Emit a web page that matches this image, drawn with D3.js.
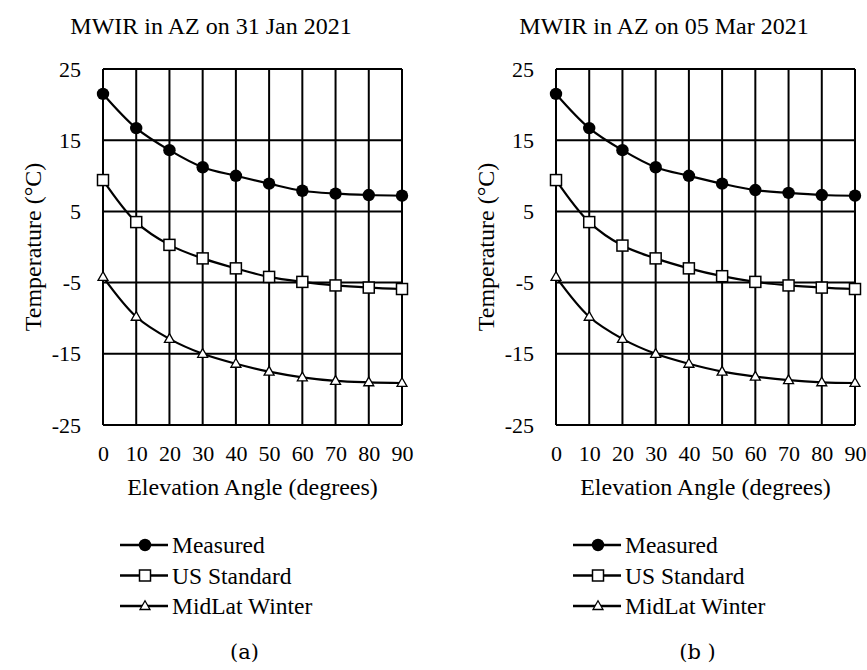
<!DOCTYPE html>
<html>
<head>
<meta charset="utf-8">
<script src="https://cdn.jsdelivr.net/npm/d3@7"></script>
<style>
  body { margin: 0; background: #fff; }
</style>
</head>
<body>
<div id="canvas"></div>
<script>
"use strict";

/* data */
const angles = [0, 10, 20, 30, 40, 50, 60, 70, 80, 90];
const yTicks = [-25, -15, -5, 5, 15, 25];

// panel (a) 31 Jan 2021
const measuredA = [21.5, 16.7, 13.6, 11.2, 10.0, 8.9, 7.9, 7.5, 7.3, 7.2];
const usStdA = [9.4, 3.5, 0.3, -1.6, -3.0, -4.2, -4.9, -5.4, -5.7, -5.9];
const midLatA = [-4.2, -9.8, -12.9, -15.0, -16.4, -17.5, -18.3, -18.8, -19.0, -19.1];

// panel (b) 05 Mar 2021
const measuredB = [21.5, 16.7, 13.6, 11.2, 10.0, 8.9, 8.0, 7.6, 7.3, 7.2];
const usStdB = [9.4, 3.5, 0.2, -1.6, -3.0, -4.1, -4.9, -5.4, -5.7, -5.9];
const midLatB = [-4.2, -9.8, -12.9, -15.0, -16.4, -17.5, -18.2, -18.7, -19.0, -19.1];

const seriesNames = ["Measured", "US Standard", "MidLat Winter"];
const markerTypes = ["circle", "square", "triangle"];

/* drawing config */
const svgWidth = 867;
const svgHeight = 670;
const plotTop = 69;
const plotBottom = 425;
const plotW = 299;
const serif = "'Liberation Serif', 'Times New Roman', Times, serif";

const svg = d3.select("#canvas")
  .append("svg")
  .attr("width", svgWidth)
  .attr("height", svgHeight);

function drawMarker(g, type, x, y) {
  if (type === "circle") {
    g.append("circle").attr("cx", x).attr("cy", y).attr("r", 6.2)
      .attr("fill", "#000");
  } else if (type === "square") {
    g.append("rect").attr("x", x - 5.5).attr("y", y - 5.5)
      .attr("width", 11).attr("height", 11)
      .attr("fill", "#fff").attr("stroke", "#000").attr("stroke-width", 1.5);
  } else {
    const s = 10;
    const h = s * 0.87;
    g.append("path")
      .attr("d", `M${x},${y - h * 0.6}L${x + s / 2},${y + h * 0.4}L${x - s / 2},${y + h * 0.4}Z`)
      .attr("fill", "#fff").attr("stroke", "#000").attr("stroke-width", 1.3);
  }
}

function addText(g, x, y, str, size, anchor) {
  return g.append("text")
    .attr("x", x).attr("y", y)
    .attr("text-anchor", anchor || "start")
    .style("font-family", serif)
    .style("font-size", size + "px")
    .attr("fill", "#000")
    .text(str);
}

function drawPanel(left, title, series, caption) {
  const g = svg.append("g");

  const x = d3.scaleLinear().domain([0, 90]).range([left, left + plotW]);
  const y = d3.scaleLinear().domain([-25, 25]).range([plotBottom, plotTop]);

  // grid lines
  g.append("g")
    .selectAll("line")
    .data(angles)
    .enter().append("line")
    .attr("x1", d => x(d)).attr("x2", d => x(d))
    .attr("y1", plotTop).attr("y2", plotBottom)
    .attr("stroke", "#000").attr("stroke-width", 2);

  g.append("g")
    .selectAll("line")
    .data(yTicks)
    .enter().append("line")
    .attr("x1", left).attr("x2", left + plotW)
    .attr("y1", d => y(d)).attr("y2", d => y(d))
    .attr("stroke", "#000").attr("stroke-width", 2);

  // axes (labels only)
  const yAxis = g.append("g")
    .attr("transform", `translate(${left - 15},0)`)
    .call(d3.axisLeft(y).tickValues(yTicks).tickSize(0).tickPadding(7)
      .tickFormat(d => String(d)));
  yAxis.select(".domain").remove();
  yAxis.selectAll("text")
    .style("font-family", serif).style("font-size", "22px");

  const xAxis = g.append("g")
    .attr("transform", `translate(0,${plotBottom + 20})`)
    .call(d3.axisBottom(x).tickValues(angles).tickSize(0).tickPadding(0)
      .tickFormat(d => String(d)));
  xAxis.select(".domain").remove();
  xAxis.selectAll("text")
    .style("font-family", serif).style("font-size", "22px");

  // lines + markers
  const line = d3.line()
    .x((d, i) => x(angles[i]))
    .y(d => y(d))
    .curve(d3.curveCatmullRom.alpha(0.5));

  series.forEach((vals, si) => {
    g.append("path")
      .datum(vals)
      .attr("d", line)
      .attr("fill", "none")
      .attr("stroke", "#000")
      .attr("stroke-width", 2.2);
    vals.forEach((v, i) => drawMarker(g, markerTypes[si], x(angles[i]), y(v)));
  });

  // titles
  addText(g, left + 108, 34, title, 24, "middle");
  addText(g, left + plotW / 2, 495, "Elevation Angle (degrees)", 24, "middle");
  addText(g, 0, 0, "Temperature (°C)", 24, "middle")
    .attr("transform", `translate(${left - 62},${(plotTop + plotBottom) / 2}) rotate(-90)`);

  // legend
  const lg = g.append("g").attr("transform", `translate(${left + 17},545)`);
  seriesNames.forEach((name, i) => {
    const ly = i * 30.5;
    lg.append("line")
      .attr("x1", 0).attr("x2", 48).attr("y1", ly).attr("y2", ly)
      .attr("stroke", "#000").attr("stroke-width", 2.5);
    drawMarker(lg, markerTypes[i], 25, ly);
    addText(lg, 52, ly + 8, name, 23.5);
  });

  addText(g, left + plotW / 2 - 8, 659, caption, 21, "middle")
    .style("font-family", "'DejaVu Serif', serif");
}

drawPanel(103, "MWIR in AZ  on 31 Jan 2021", [measuredA, usStdA, midLatA], "(a)");
drawPanel(556, "MWIR in AZ  on 05 Mar 2021", [measuredB, usStdB, midLatB], "(b )");
</script>
</body>
</html>
